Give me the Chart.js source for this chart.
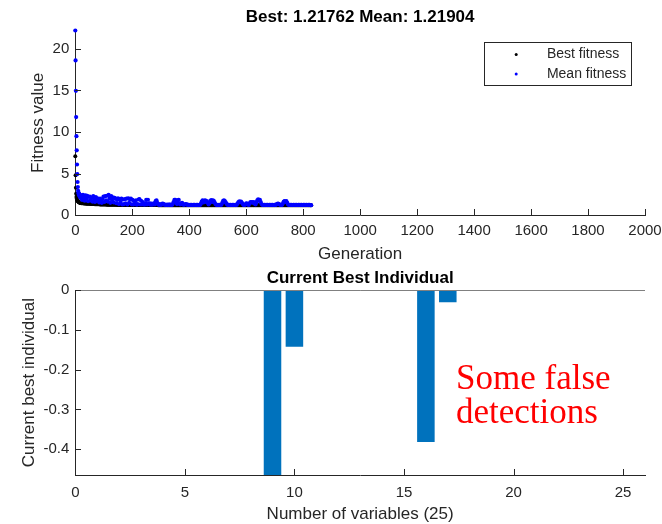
<!DOCTYPE html>
<html>
<head>
<meta charset="utf-8">
<title>GA progress</title>
<script src="https://cdn.jsdelivr.net/npm/chart.js@4.4.1/dist/chart.umd.min.js"></script>
<style>
  html, body { margin: 0; padding: 0; background: #fff; width: 662px; height: 524px; overflow: hidden; }
  #wrap { position: relative; width: 662px; height: 524px; }
  canvas { position: absolute; left: 0; }
  #fitness { top: 0; }
  #individual { top: 256px; }
  #note {
    position: absolute; left: 456px; top: 361px;
    font-family: 'Liberation Serif', 'Times New Roman', serif;
    font-size: 35px; line-height: 34px; color: #ff0000; white-space: nowrap;
  }
</style>
</head>
<body>
<div id="wrap">
  <canvas id="fitness" width="662" height="268"></canvas>
  <canvas id="individual" width="662" height="268"></canvas>
  <div id="note">Some false<br>detections</div>
</div>
<script>
// ---- Fitness history: generations 0..20 one by one, then every 3rd generation ----
const firstGenerations = [0,1,2,3,4,5,6,7,8,9,10,11,12,13,14,15,16,17,18,19,20];
const laterStart = 21, laterStep = 3;

const meanFitness = [
  22.2, 18.6, 14.95, 11.8, 9.5, 7.8, 6.1, 4.95, 4.0, 3.4, 2.95, 2.7, 2.55, 2.65, 2.35, 2.5, 2.25, 2.45, 2.15, 2.35, 2.05,
  2.3, 1.85, 2.45, 2.1, 1.75, 2.4, 2.0, 2.35, 1.7, 2.2,
  2.25, 1.8, 2.1, 1.65, 2.3, 1.95, 1.6, 2.2, 1.75, 2.05,
  1.9, 1.55, 2.0, 1.7, 1.5, 1.95, 2.25, 1.6, 2.3, 1.8,
  2.35, 1.65, 2.45, 2.0, 1.5, 2.3, 1.85, 2.15, 1.55, 2.1,
  2.0, 1.45, 1.85, 2.05, 1.35, 1.95, 1.6, 2.0, 1.3, 1.9,
  1.35, 1.95, 1.45, 2.0, 1.3, 2.05, 1.5, 1.9, 2.0, 1.32,
  1.85, 1.3, 1.7, 1.4, 1.8, 1.28, 1.35, 1.9, 1.95, 1.3,
  1.75, 1.3, 1.6, 1.35, 1.28, 1.45, 1.85, 1.3, 1.87, 1.4,
  1.45, 1.28, 1.4, 1.27, 1.35, 1.45, 1.3, 1.7, 1.8, 1.5,
  1.3, 1.26, 1.35, 1.25, 1.3, 1.42, 1.38, 1.27, 1.3, 1.25,
  1.26, 1.3, 1.25, 1.28, 1.3, 1.26, 1.25, 1.35, 1.6, 1.85,
  1.87, 1.5, 1.35, 1.8, 1.85, 1.4, 1.3, 1.45, 1.5, 1.3,
  1.26, 1.3, 1.36, 1.33, 1.28, 1.25, 1.27, 1.24, 1.26, 1.25,
  1.24, 1.26, 1.25, 1.27, 1.24, 1.25, 1.26, 1.24, 1.27, 1.25,
  1.4, 1.65, 1.8, 1.55, 1.75, 1.8, 1.6, 1.7, 1.5, 1.3,
  1.45, 1.7, 1.83, 1.6, 1.8, 1.75, 1.55, 1.35, 1.27, 1.25,
  1.24, 1.26, 1.25, 1.24, 1.27, 1.5, 1.75, 1.8, 1.7, 1.55,
  1.4, 1.27, 1.25, 1.24, 1.26, 1.25, 1.24, 1.27, 1.25, 1.24,
  1.26, 1.25, 1.27, 1.45, 1.6, 1.68, 1.6, 1.65, 1.5, 1.35,
  1.25, 1.24, 1.3, 1.44, 1.4, 1.3, 1.25, 1.45, 1.6, 1.55,
  1.6, 1.5, 1.58, 1.4, 1.3, 1.55, 1.8, 1.91, 1.75, 1.85,
  1.6, 1.35, 1.25, 1.24, 1.26, 1.25, 1.24, 1.27, 1.25, 1.24,
  1.26, 1.25, 1.24, 1.27, 1.25, 1.24, 1.26, 1.25, 1.28, 1.35,
  1.4, 1.38, 1.3, 1.25, 1.24, 1.26, 1.45, 1.65, 1.72, 1.6,
  1.7, 1.5, 1.3, 1.25, 1.24, 1.26, 1.25, 1.24, 1.27, 1.25,
  1.24, 1.26, 1.25, 1.24, 1.27, 1.25, 1.24, 1.26, 1.25, 1.24,
  1.26, 1.25, 1.24, 1.27, 1.25, 1.24, 1.26, 1.25, 1.23, 1.21904
];

const bestFitness = [
  7.1, 4.8, 3.3, 2.6, 2.2, 2.0, 1.9, 1.82, 1.76, 1.7, 1.66, 1.62, 1.6, 1.58, 1.56, 1.54, 1.52, 1.5, 1.49, 1.48, 1.47,
  1.46, 1.45, 1.44, 1.43, 1.42, 1.41, 1.4, 1.4, 1.39, 1.38,
  1.38, 1.37, 1.36, 1.36, 1.35, 1.35, 1.34, 1.34, 1.33, 1.33,
  1.32, 1.32, 1.31, 1.31, 1.3, 1.3, 1.3, 1.29, 1.29, 1.29,
  1.28, 1.28, 1.28, 1.27, 1.27, 1.27, 1.27, 1.26, 1.26, 1.26,
  1.26, 1.26, 1.25, 1.25, 1.25, 1.25, 1.25, 1.24, 1.24, 1.24,
  1.24, 1.24, 1.24, 1.24, 1.24, 1.24, 1.24, 1.24, 1.24, 1.24,
  1.24, 1.24, 1.23, 1.23, 1.23, 1.23, 1.23, 1.23, 1.23, 1.23,
  1.23, 1.23, 1.23, 1.23, 1.23, 1.23, 1.23, 1.23, 1.23, 1.23,
  1.23, 1.23, 1.225, 1.225, 1.225, 1.225, 1.225, 1.225, 1.225, 1.225,
  1.222, 1.222, 1.222, 1.222, 1.222, 1.222, 1.222, 1.222, 1.222, 1.222,
  1.222, 1.222, 1.222, 1.222, 1.222, 1.222, 1.222, 1.222, 1.222, 1.222,
  1.222, 1.222, 1.222, 1.222, 1.222, 1.222, 1.222, 1.222, 1.222, 1.222,
  1.222, 1.222, 1.222, 1.222, 1.222, 1.222, 1.222, 1.222, 1.222, 1.222,
  1.222, 1.222, 1.222, 1.222, 1.222, 1.222, 1.222, 1.222, 1.222, 1.222,
  1.222, 1.222, 1.222, 1.222, 1.222, 1.222, 1.222, 1.222, 1.222, 1.222,
  1.222, 1.222, 1.222, 1.222, 1.222, 1.222, 1.222, 1.222, 1.222, 1.222,
  1.222, 1.222, 1.222, 1.222, 1.222, 1.222, 1.222, 1.222, 1.222, 1.222,
  1.222, 1.222, 1.222, 1.222, 1.222, 1.222, 1.222, 1.222, 1.222, 1.222,
  1.222, 1.222, 1.222, 1.222, 1.222, 1.222, 1.222, 1.222, 1.222, 1.222,
  1.222, 1.222, 1.222, 1.222, 1.222, 1.222, 1.222, 1.222, 1.222, 1.222,
  1.219, 1.219, 1.219, 1.219, 1.219, 1.219, 1.219, 1.219, 1.219, 1.219,
  1.219, 1.219, 1.219, 1.219, 1.219, 1.219, 1.219, 1.219, 1.219, 1.219,
  1.219, 1.219, 1.219, 1.219, 1.219, 1.219, 1.219, 1.219, 1.219, 1.219,
  1.219, 1.219, 1.219, 1.219, 1.219, 1.219, 1.219, 1.219, 1.219, 1.219,
  1.219, 1.219, 1.219, 1.219, 1.219, 1.219, 1.219, 1.219, 1.219, 1.219,
  1.219, 1.219, 1.219, 1.219, 1.219, 1.219, 1.219, 1.219, 1.219, 1.219,
  1.219, 1.219, 1.219, 1.219, 1.219, 1.219, 1.219, 1.219, 1.219, 1.21762
];

// ---- Current best individual: one bar per variable ----
const variableIndex = [1,2,3,4,5,6,7,8,9,10,11,12,13,14,15,16,17,18,19,20,21,22,23,24,25];
const bestIndividual = [0,0,0,0,0,0,0,0,-0.5,-0.142,0,0,0,0,0,-0.382,-0.03,0,0,0,0,0,0,0,0];

// ---- tick values ----
const generationTicks = [0,200,400,600,800,1000,1200,1400,1600,1800,2000];
const fitnessTicks = [0,5,10,15,20];
const variableTicks = [0,5,10,15,20,25];
const geneTicks = [-0.4,-0.3,-0.2,-0.1,0];

const fitnessTitle = 'Best: 1.21762 Mean: 1.21904';

// ---- styling ----
const axisColor = '#262626';
const sans = "'Liberation Sans', Arial, Helvetica, sans-serif";
Chart.defaults.font.family = sans;
Chart.defaults.color = axisColor;

const generations = firstGenerations.slice();
for (let k = 0; generations.length < meanFitness.length; k++) generations.push(laterStart + k * laterStep);

const tickFmt = v => String(Math.round(v * 1000) / 1000);
const useTicks = values => scale => { scale.ticks = values.map(v => ({ value: v })); };
const fixSize = (prop, size) => scale => {
  scale[prop] = size;
  scale.paddingLeft = scale.paddingRight = scale.paddingTop = scale.paddingBottom = 0;
};

// tick marks drawn on the inside of the axes
const innerTicks = {
  id: 'innerTicks',
  afterDraw(chart) {
    const { ctx, chartArea: a, scales } = chart;
    const len = 6;
    ctx.save();
    ctx.strokeStyle = axisColor;
    ctx.lineWidth = 1;
    ctx.beginPath();
    scales.x.ticks.forEach(t => {
      const x = Math.round(scales.x.getPixelForValue(t.value)) + 0.5;
      ctx.moveTo(x, Math.round(a.bottom)); ctx.lineTo(x, Math.round(a.bottom) - len);
    });
    scales.y.ticks.forEach(t => {
      const y = Math.round(scales.y.getPixelForValue(t.value)) + 0.5;
      ctx.moveTo(Math.round(a.left), y); ctx.lineTo(Math.round(a.left) + len, y);
    });
    ctx.stroke();
    ctx.restore();
  }
};

// boxed legend in the upper right corner of the plot
const boxLegend = {
  id: 'boxLegend',
  afterDraw(chart) {
    const { ctx, chartArea: a } = chart;
    const w = 147, h = 43;
    const x0 = Math.round(a.right - 14.3 - w) + 0.5;
    const y0 = Math.round(a.top + 11) + 0.5;
    ctx.save();
    ctx.fillStyle = '#ffffff';
    ctx.fillRect(x0, y0, w, h);
    ctx.strokeStyle = axisColor;
    ctx.lineWidth = 1;
    ctx.strokeRect(x0, y0, w, h);
    ctx.font = '14px ' + sans;
    ctx.textBaseline = 'middle';
    ctx.textAlign = 'left';
    [1, 0].forEach((di, row) => {
      const ds = chart.data.datasets[di];
      const cy = y0 + 12 + row * 19.4;
      ctx.fillStyle = ds.backgroundColor;
      ctx.beginPath();
      ctx.arc(x0 + 31.7, cy, 1.5, 0, Math.PI * 2);
      ctx.fill();
      ctx.fillStyle = axisColor;
      ctx.fillText(ds.label, x0 + 62.4, cy);
    });
    ctx.restore();
  }
};

// bar baseline at zero
const zeroLine = {
  id: 'zeroLine',
  afterDatasetsDraw(chart) {
    const { ctx, chartArea: a, scales } = chart;
    const y = Math.round(scales.y.getPixelForValue(0)) + 0.5;
    ctx.save();
    ctx.strokeStyle = '#808080';
    ctx.lineWidth = 1;
    ctx.beginPath();
    ctx.moveTo(a.left, y); ctx.lineTo(a.right, y);
    ctx.stroke();
    ctx.restore();
  }
};

const axisBase = {
  grid: { display: false, drawTicks: false },
  border: { display: true, color: axisColor, width: 1 },
};

// ---- upper plot: fitness per generation ----
new Chart(document.getElementById('fitness'), {
  type: 'scatter',
  data: {
    datasets: [
      {
        label: 'Mean fitness',
        data: generations.map((g, i) => ({ x: g, y: meanFitness[i] })),
        backgroundColor: '#0000ff',
        borderColor: '#0000ff',
        pointRadius: 2.1,
        pointBorderWidth: 0,
        clip: false
      },
      {
        label: 'Best fitness',
        data: generations.map((g, i) => ({ x: g, y: bestFitness[i] })),
        backgroundColor: '#000000',
        borderColor: '#000000',
        pointRadius: 2.0,
        pointBorderWidth: 0,
        clip: false
      }
    ]
  },
  options: {
    responsive: false,
    animation: false,
    devicePixelRatio: 1,
    events: [],
    layout: { padding: { left: 0, right: 17, top: 0, bottom: 0 } },
    plugins: {
      legend: { display: false },
      tooltip: { enabled: false },
      title: {
        display: true, fullSize: false, text: fitnessTitle, color: '#000000',
        font: { size: 17, weight: 'bold', family: sans },
        padding: { top: 7, bottom: 3.1 }
      }
    },
    scales: {
      x: {
        ...axisBase,
        type: 'linear', min: 0, max: 2000,
        ticks: { padding: 7, font: { size: 15 }, color: axisColor, callback: tickFmt, autoSkip: false, maxRotation: 0 },
        title: { display: true, text: 'Generation', color: axisColor, font: { size: 17, lineHeight: 1 }, padding: { top: 0, bottom: 5.5 } },
        afterBuildTicks: useTicks(generationTicks),
        afterFit: fixSize('height', 52.7)
      },
      y: {
        ...axisBase,
        type: 'linear', min: 0, max: 22.2,
        ticks: { padding: 6, font: { size: 15 }, color: axisColor, callback: tickFmt },
        title: { display: true, text: 'Fitness value', color: axisColor, font: { size: 17, lineHeight: 1 }, padding: { top: 30, bottom: 0 } },
        afterBuildTicks: useTicks(fitnessTicks),
        afterFit: fixSize('width', 75.3)
      }
    }
  },
  plugins: [innerTicks, boxLegend]
});

// ---- lower plot: current best individual ----
new Chart(document.getElementById('individual'), {
  type: 'bar',
  data: {
    datasets: [{
      label: 'Current best individual',
      data: variableIndex.map((v, i) => ({ x: v, y: bestIndividual[i] })),
      backgroundColor: '#0072BD',
      borderWidth: 0,
      barPercentage: 0.8,
      categoryPercentage: 1
    }]
  },
  options: {
    responsive: false,
    animation: false,
    devicePixelRatio: 1,
    events: [],
    layout: { padding: { left: 0, right: 17, top: 0, bottom: 0 } },
    plugins: {
      legend: { display: false },
      tooltip: { enabled: false },
      title: {
        display: true, fullSize: false, text: 'Current Best Individual', color: '#000000',
        font: { size: 17, weight: 'bold', family: sans },
        padding: { top: 11.8, bottom: 2.1 }
      }
    },
    scales: {
      x: {
        ...axisBase,
        type: 'linear', min: 0, max: 26, offset: false,
        ticks: { padding: 9, font: { size: 15 }, color: axisColor, callback: tickFmt, autoSkip: false, maxRotation: 0 },
        title: { display: true, text: 'Number of variables (25)', color: axisColor, font: { size: 17, lineHeight: 1 }, padding: { top: 0, bottom: 1.2 } },
        afterBuildTicks: useTicks(variableTicks),
        afterFit: fixSize('height', 49)
      },
      y: {
        ...axisBase,
        type: 'linear', min: -0.465, max: 0,
        ticks: { padding: 6, font: { size: 15 }, color: axisColor, callback: tickFmt },
        title: { display: true, text: 'Current best individual', color: axisColor, font: { size: 17, lineHeight: 1 }, padding: { top: 20.5, bottom: 0 } },
        afterBuildTicks: useTicks(geneTicks),
        afterFit: fixSize('width', 75.3)
      }
    }
  },
  plugins: [innerTicks, zeroLine]
});
</script>
</body>
</html>
